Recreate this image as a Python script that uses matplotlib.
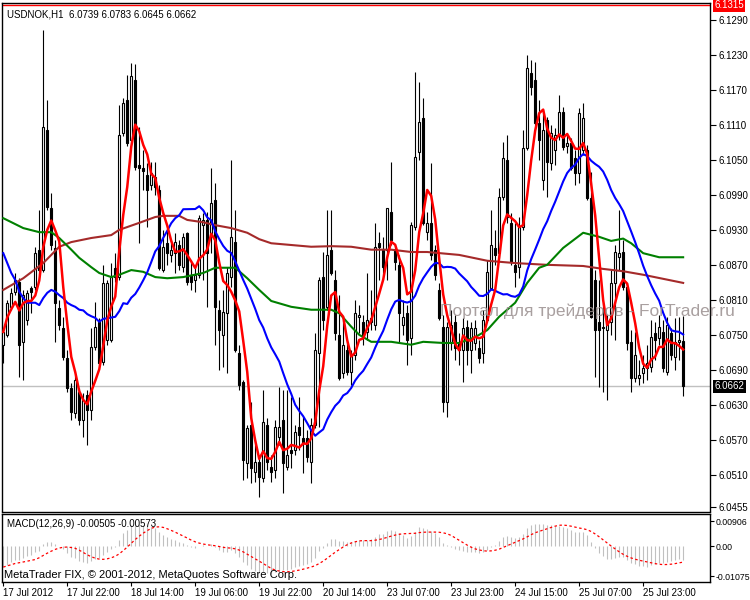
import numpy as np
import pandas as pd
import matplotlib
matplotlib.use('Agg')
import matplotlib.pyplot as plt
import matplotlib.transforms as mtransforms

plt.rcParams['font.family'] = ['Liberation Sans', 'DejaVu Sans']

# ---------------------------------------------------------------------------
# USDNOK H1 bars (17 Jul 2012 06:00 .. 26 Jul 2012 09:00)
# ---------------------------------------------------------------------------
opens = [
    6.0733, 6.0750, 6.0798, 6.0824, 6.0841, 6.0738, 6.0776, 6.0830, 6.0832, 6.0896,
    6.0861, 6.1101, 6.0967, 6.0899, 6.0796, 6.0762, 6.0710, 6.0659, 6.0616, 6.0652,
    6.0604, 6.0647, 6.0621, 6.0729, 6.0772, 6.0703, 6.0741, 6.0741, 6.0865, 6.0849,
    6.1096, 6.1153, 6.1084, 6.1187, 6.1041, 6.1036, 6.1024, 6.1007, 6.1021, 6.0998,
    6.0861, 6.0907, 6.0887, 6.0890, 6.0904, 6.0866, 6.0925, 6.0853, 6.0844, 6.0853,
    6.0938, 6.0947, 6.0925, 6.0981, 6.0793, 6.0750, 6.0787, 6.0849, 6.0909, 6.0719,
    6.0669, 6.0530, 6.0596, 6.0515, 6.0532, 6.0505, 6.0596, 6.0524, 6.0518, 6.0575,
    6.0604, 6.0524, 6.0553, 6.0553, 6.0592, 6.0573, 6.0573, 6.0532, 6.0596, 6.0719,
    6.0849, 6.0798, 6.0896, 6.0844, 6.0750, 6.0685, 6.0724, 6.0686, 6.0716, 6.0781,
    6.0772, 6.0755, 6.0772, 6.0767, 6.0907, 6.0896, 6.0896, 6.0961, 6.0896, 6.0870,
    6.0767, 6.0787, 6.0745, 6.0935, 6.1063, 6.1122, 6.0926, 6.0942, 6.0896, 6.0827,
    6.0764, 6.0635, 6.0736, 6.0772, 6.0736, 6.0724, 6.0764, 6.0724, 6.0736, 6.0727,
    6.0719, 6.0776, 6.0830, 6.0899, 6.0890, 6.0986, 6.1050, 6.0942, 6.0870, 6.0866,
    6.0935, 6.1070, 6.1199, 6.1187, 6.1113, 6.1015, 6.1118, 6.1045, 6.1067, 6.1093,
    6.1132, 6.1074, 6.1079, 6.1053, 6.1027, 6.1067, 6.1067, 6.0985, 6.0844, 6.0772,
    6.0762, 6.0758, 6.0772, 6.0839, 6.0883, 6.0892, 6.0832, 6.0738, 6.0676, 6.0676,
    6.0685, 6.0693, 6.0695, 6.0753, 6.0745, 6.0755, 6.0686, 6.0753, 6.0712, 6.0738,
    6.0739,
]
highs = [
    6.0758, 6.0810, 6.0830, 6.0856, 6.0847, 6.0827, 6.0827, 6.0834, 6.0901, 6.0964,
    6.1273, 6.1153, 6.0993, 6.0913, 6.0810, 6.0781, 6.0724, 6.0668, 6.0681, 6.0659,
    6.0650, 6.0656, 6.0762, 6.0806, 6.0779, 6.0870, 6.0844, 6.0873, 6.0890, 6.1144,
    6.1156, 6.1196, 6.1216, 6.1214, 6.1106, 6.1067, 6.1045, 6.1046, 6.1046, 6.1007,
    6.0930, 6.0930, 6.0913, 6.0925, 6.0913, 6.0925, 6.0926, 6.0878, 6.0866, 6.0955,
    6.0959, 6.0961, 6.1036, 6.1010, 6.0810, 6.0827, 6.0866, 6.1050, 6.0964, 6.0733,
    6.0673, 6.0596, 6.0635, 6.0570, 6.0539, 6.0656, 6.0608, 6.0544, 6.0604, 6.0661,
    6.0656, 6.0656, 6.0644, 6.0596, 6.0644, 6.0609, 6.0587, 6.0608, 6.0753, 6.0849,
    6.0892, 6.0964, 6.0964, 6.0861, 6.0818, 6.0776, 6.0741, 6.0724, 6.0810, 6.0801,
    6.0784, 6.0856, 6.0827, 6.0942, 6.0926, 6.0918, 6.0967, 6.1046, 6.0904, 6.0887,
    6.0810, 6.0801, 6.0943, 6.1201, 6.1184, 6.1156, 6.0961, 6.1045, 6.0904, 6.0839,
    6.0784, 6.0772, 6.0793, 6.0784, 6.0753, 6.0779, 6.0776, 6.0772, 6.0776, 6.0741,
    6.0793, 6.0878, 6.0964, 6.0930, 6.1002, 6.1081, 6.1093, 6.0959, 6.0942, 6.0952,
    6.1101, 6.1230, 6.1221, 6.1218, 6.1153, 6.1136, 6.1123, 6.1110, 6.1105, 6.1161,
    6.1141, 6.1096, 6.1088, 6.1067, 6.1139, 6.1148, 6.1076, 6.1029, 6.0861, 6.0844,
    6.0805, 6.0784, 6.0861, 6.0904, 6.0964, 6.0913, 6.0839, 6.0758, 6.0755, 6.0707,
    6.0716, 6.0733, 6.0776, 6.0772, 6.0784, 6.0776, 6.0781, 6.0762, 6.0779, 6.0781,
    6.0783,
]
lows = [
    6.0702, 6.0746, 6.0793, 6.0818, 6.0678, 6.0673, 6.0767, 6.0787, 6.0827, 6.0853,
    6.0858, 6.0964, 6.0896, 6.0738, 6.0758, 6.0707, 6.0652, 6.0604, 6.0608, 6.0596,
    6.0575, 6.0561, 6.0604, 6.0724, 6.0698, 6.0698, 6.0733, 6.0738, 6.0841, 6.0844,
    6.1091, 6.1074, 6.1076, 6.1033, 6.0907, 6.0998, 6.0935, 6.0998, 6.0990, 6.0861,
    6.0858, 6.0870, 6.0875, 6.0856, 6.0861, 6.0858, 6.0836, 6.0827, 6.0824, 6.0847,
    6.0844, 6.0798, 6.0890, 6.0733, 6.0690, 6.0695, 6.0685, 6.0832, 6.0721, 6.0656,
    6.0501, 6.0505, 6.0496, 6.0498, 6.0472, 6.0498, 6.0518, 6.0498, 6.0505, 6.0561,
    6.0479, 6.0518, 6.0522, 6.0544, 6.0553, 6.0513, 6.0532, 6.0496, 6.0590, 6.0592,
    6.0758, 6.0793, 6.0853, 6.0741, 6.0673, 6.0676, 6.0681, 6.0664, 6.0707, 6.0753,
    6.0733, 6.0741, 6.0758, 6.0758, 6.0844, 6.0853, 6.0844, 6.0904, 6.0861, 6.0738,
    6.0750, 6.0698, 6.0716, 6.0930, 6.1050, 6.0938, 6.0913, 6.0878, 6.0844, 6.0776,
    6.0618, 6.0609, 6.0724, 6.0707, 6.0698, 6.0669, 6.0698, 6.0685, 6.0724, 6.0702,
    6.0702, 6.0772, 6.0827, 6.0870, 6.0882, 6.0981, 6.0942, 6.0870, 6.0832, 6.0847,
    6.0930, 6.1067, 6.1161, 6.1101, 6.1050, 6.0998, 6.0986, 6.1033, 6.1041, 6.1084,
    6.1067, 6.1062, 6.1033, 6.1007, 6.1010, 6.1058, 6.0981, 6.0779, 6.0678, 6.0661,
    6.0652, 6.0638, 6.0750, 6.0741, 6.0861, 6.0827, 6.0724, 6.0652, 6.0669, 6.0664,
    6.0668, 6.0673, 6.0686, 6.0707, 6.0733, 6.0686, 6.0681, 6.0707, 6.0690, 6.0707,
    6.0645,
]
closes = [
    6.0755, 6.0805, 6.0822, 6.0844, 6.0733, 6.0818, 6.0822, 6.0824, 6.0890, 6.0861,
    6.1106, 6.0969, 6.0904, 6.0805, 6.0767, 6.0712, 6.0659, 6.0618, 6.0673, 6.0604,
    6.0638, 6.0621, 6.0729, 6.0764, 6.0702, 6.0839, 6.0839, 6.0849, 6.0849, 6.1093,
    6.1148, 6.1079, 6.1194, 6.1038, 6.1036, 6.1031, 6.0998, 6.1027, 6.1003, 6.0865,
    6.0901, 6.0890, 6.0896, 6.0909, 6.0870, 6.0918, 6.0841, 6.0841, 6.0853, 6.0950,
    6.0947, 6.0890, 6.0976, 6.0798, 6.0758, 6.0789, 6.0856, 6.0918, 6.0724, 6.0664,
    6.0536, 6.0590, 6.0522, 6.0532, 6.0506, 6.0601, 6.0532, 6.0515, 6.0592, 6.0592,
    6.0530, 6.0544, 6.0548, 6.0583, 6.0578, 6.0565, 6.0541, 6.0596, 6.0724, 6.0844,
    6.0776, 6.0887, 6.0856, 6.0753, 6.0676, 6.0733, 6.0686, 6.0716, 6.0787, 6.0784,
    6.0746, 6.0776, 6.0779, 6.0901, 6.0901, 6.0866, 6.0967, 6.0913, 6.0875, 6.0787,
    6.0781, 6.0741, 6.0938, 6.1055, 6.1115, 6.0942, 6.0942, 6.0887, 6.0853, 6.0779,
    6.0635, 6.0764, 6.0767, 6.0727, 6.0724, 6.0762, 6.0724, 6.0762, 6.0762, 6.0710,
    6.0776, 6.0858, 6.0904, 6.0887, 6.0986, 6.1053, 6.0952, 6.0875, 6.0858, 6.0935,
    6.1070, 6.1208, 6.1175, 6.1113, 6.1084, 6.1101, 6.1046, 6.1096, 6.1093, 6.1132,
    6.1072, 6.1079, 6.1036, 6.1027, 6.1130, 6.1122, 6.0985, 6.0781, 6.0758, 6.0758,
    6.0764, 6.0772, 6.0839, 6.0892, 6.0890, 6.0832, 6.0736, 6.0676, 6.0716, 6.0681,
    6.0693, 6.0702, 6.0746, 6.0741, 6.0764, 6.0693, 6.0767, 6.0716, 6.0738, 6.0741,
    6.0662,
]

# blue MA before enough bars are on screen
blue_head = [6.0890, 6.0873, 6.0856, 6.0844, 6.0824, 6.0813, 6.0805, 6.0805, 6.0805, 6.0801,
             6.0813, 6.0822, 6.0827, 6.0824, 6.0818, 6.0813, 6.0805, 6.0801, 6.0798, 6.0793]

# slow MAs at these bars
green_bars = [0, 5, 9, 12, 14, 17, 19, 22, 24, 27, 29, 32, 35, 38, 41, 45, 50, 53, 58, 61,
              64, 67, 72, 77, 82, 84, 87, 89, 92, 97, 102, 105, 110, 114, 118, 121, 124, 128, 131, 134,
              136, 140, 145, 149, 152, 155, 157, 160, 164, 170]
green_vals = [6.0950, 6.0933, 6.0926, 6.0926, 6.0916, 6.0896, 6.0882, 6.0866, 6.0856, 6.0849,
              6.0853, 6.0861, 6.0858, 6.0849, 6.0847, 6.0849, 6.0856, 6.0865, 6.0865, 6.0847,
              6.0827, 6.0808, 6.0798, 6.0793, 6.0793, 6.0787, 6.0764, 6.0750, 6.0738, 6.0738,
              6.0733, 6.0738, 6.0736, 6.0736, 6.0746, 6.0758, 6.0781, 6.0805, 6.0839, 6.0865,
              6.0870, 6.0899, 6.0925, 6.0918, 6.0911, 6.0915, 6.0907, 6.0890, 6.0883, 6.0883]
brown_bars = [0, 5, 10, 12, 14, 17, 22, 27, 29, 34, 38, 40, 44, 46, 50, 53, 57, 61, 64, 67,
              72, 77, 82, 87, 92, 97, 102, 106, 114, 121, 128, 136, 145, 150, 155, 160, 165, 170]
brown_vals = [6.0827, 6.0847, 6.0873, 6.0887, 6.0901, 6.0909, 6.0916, 6.0921, 6.0930, 6.0942,
              6.0952, 6.0954, 6.0954, 6.0947, 6.0943, 6.0938, 6.0933, 6.0925, 6.0914, 6.0907,
              6.0904, 6.0901, 6.0902, 6.0901, 6.0896, 6.0896, 6.0892, 6.0892, 6.0887, 6.0877,
              6.0873, 6.0870, 6.0868, 6.0863, 6.0859, 6.0853, 6.0846, 6.0839]

# MACD(12,26,9) EMA states just before the first visible bar
ema_fast_seed = 6.0770
ema_slow_seed = 6.0850

date_ticks = [0, 16, 32, 48, 64, 80, 96, 112, 128, 144, 160]
date_labels = ['17 Jul 2012', '17 Jul 22:00', '18 Jul 14:00', '19 Jul 06:00', '19 Jul 22:00',
               '20 Jul 14:00', '23 Jul 07:00', '23 Jul 23:00', '24 Jul 15:00', '25 Jul 07:00',
               '25 Jul 23:00']
price_ticks = [6.1290, 6.1230, 6.1170, 6.1110, 6.1050, 6.0990, 6.0930, 6.0870, 6.0810,
               6.0750, 6.0690, 6.0630, 6.0570, 6.0510, 6.0455]
macd_ticks = [0.00906, 0.0, -0.01075]
macd_tick_labels = ['0.00906', '0.00', '-0.01075']
top_line = 6.1315

# ---------------------------------------------------------------------------
o = np.array(opens)
h = np.array(highs)
l = np.array(lows)
c = np.array(closes)
idx = np.arange(len(c))
s = pd.Series(c)

ma_red = s.rolling(5, min_periods=1).mean()
ma_blue = s.rolling(21).mean().to_numpy()
ma_blue[:len(blue_head)] = blue_head

# MACD
a_f, a_s = 2.0 / 13, 2.0 / 27
ef, es = ema_fast_seed, ema_slow_seed
macd = []
for v in c:
    ef += a_f * (v - ef)
    es += a_s * (v - es)
    macd.append(ef - es)
macd = pd.Series(macd)
signal = macd.rolling(9, min_periods=1).mean()

FS = 7

fig = plt.figure(figsize=(7.5, 6), dpi=100)
ax = fig.add_axes([0.0033, 0.1475, 0.9433, 0.8475])
mx = fig.add_axes([0.0033, 0.03, 0.9433, 0.1133])

# candles
up = c >= o
ax.vlines(idx, l, h, color='black', linewidth=0.8, zorder=2)
ax.bar(idx[up], (c - o)[up], bottom=o[up], width=0.55, color='white',
       edgecolor='black', linewidth=0.8, zorder=3)
ax.bar(idx[~up], (o - c)[~up], bottom=c[~up], width=0.55, color='black',
       edgecolor='black', linewidth=0.8, zorder=3)

ax.plot(brown_bars, brown_vals, color='#A52A2A', linewidth=1.5, zorder=4)
ax.plot(green_bars, green_vals, color='#008000', linewidth=1.5, zorder=4)
ax.plot(idx, ma_blue, color='#0000FF', linewidth=1.5, zorder=5)
ax.plot(idx, ma_red, color='#FF0000', linewidth=1.8, zorder=6)

ax.axhline(c[-1], color='#C0C0C0', linewidth=1, zorder=1)
ax.axhline(top_line, color='#FF0000', linewidth=1, zorder=1)

ax.set_xlim(-0.2, 176.7)
ax.set_ylim(6.0447, 6.1319)
ax.yaxis.tick_right()
ax.set_yticks(price_ticks)
ax.set_yticklabels(['%.4f' % p for p in price_ticks])
ax.tick_params(axis='y', direction='out', length=4, width=0.8, labelsize=FS, pad=2)
ax.set_xticks([])

tr = mtransforms.blended_transform_factory(ax.transAxes, ax.transData)
ax.text(1.006, top_line, '%.4f' % top_line, transform=tr, fontsize=FS, color='white',
        va='center', ha='left', clip_on=False,
        bbox=dict(boxstyle='square,pad=0.15', facecolor='#FF0000', edgecolor='none'))
ax.text(1.006, c[-1], '%.4f' % c[-1], transform=tr, fontsize=FS, color='white',
        va='center', ha='left', clip_on=False,
        bbox=dict(boxstyle='square,pad=0.15', facecolor='black', edgecolor='none'))

ax.text(0.006, 0.988, 'USDNOK,H1  %.4f %.4f %.4f %.4f' % (o[-1], h[-1], l[-1], c[-1]),
        transform=ax.transAxes, fontsize=FS, va='top', ha='left', color='black')
fig.text(0.587, 1 - 311 / 600, 'Портал для трейдеров - ForTrader.ru', fontsize=12.5,
         color='#9a8f8f', alpha=0.85, va='center', ha='left')

# MACD panel
mx.vlines(idx, 0, macd, color='#C0C0C0', linewidth=0.8, zorder=2)
mx.plot(idx, signal, color='#FF0000', linewidth=0.9, linestyle=(0, (2, 2)), zorder=3)
mx.set_xlim(-0.2, 176.7)
mx.set_ylim(-0.0129, 0.0116)
mx.yaxis.tick_right()
mx.set_yticks(macd_ticks)
mx.set_yticklabels(macd_tick_labels)
mx.tick_params(axis='y', direction='out', length=3, width=0.8, labelsize=6.3, pad=1)
mx.set_xticks(date_ticks)
mx.set_xticklabels(date_labels, ha='left')
mx.tick_params(axis='x', direction='out', length=3, width=0.8, labelsize=FS, pad=1)
mx.text(0.006, 0.93, 'MACD(12,26,9) %.5f %.5f' % (macd.iloc[-1], signal.iloc[-1]),
        transform=mx.transAxes, fontsize=FS, va='top', ha='left')
mx.text(0.002, 0.03, 'MetaTrader FIX, © 2001-2012, MetaQuotes Software Corp.',
        transform=mx.transAxes, fontsize=FS + 1, va='bottom', ha='left')

for a in (ax, mx):
    for sp in a.spines.values():
        sp.set_linewidth(1.0)
        sp.set_color('black')

fig.savefig('out.png', dpi=100)
